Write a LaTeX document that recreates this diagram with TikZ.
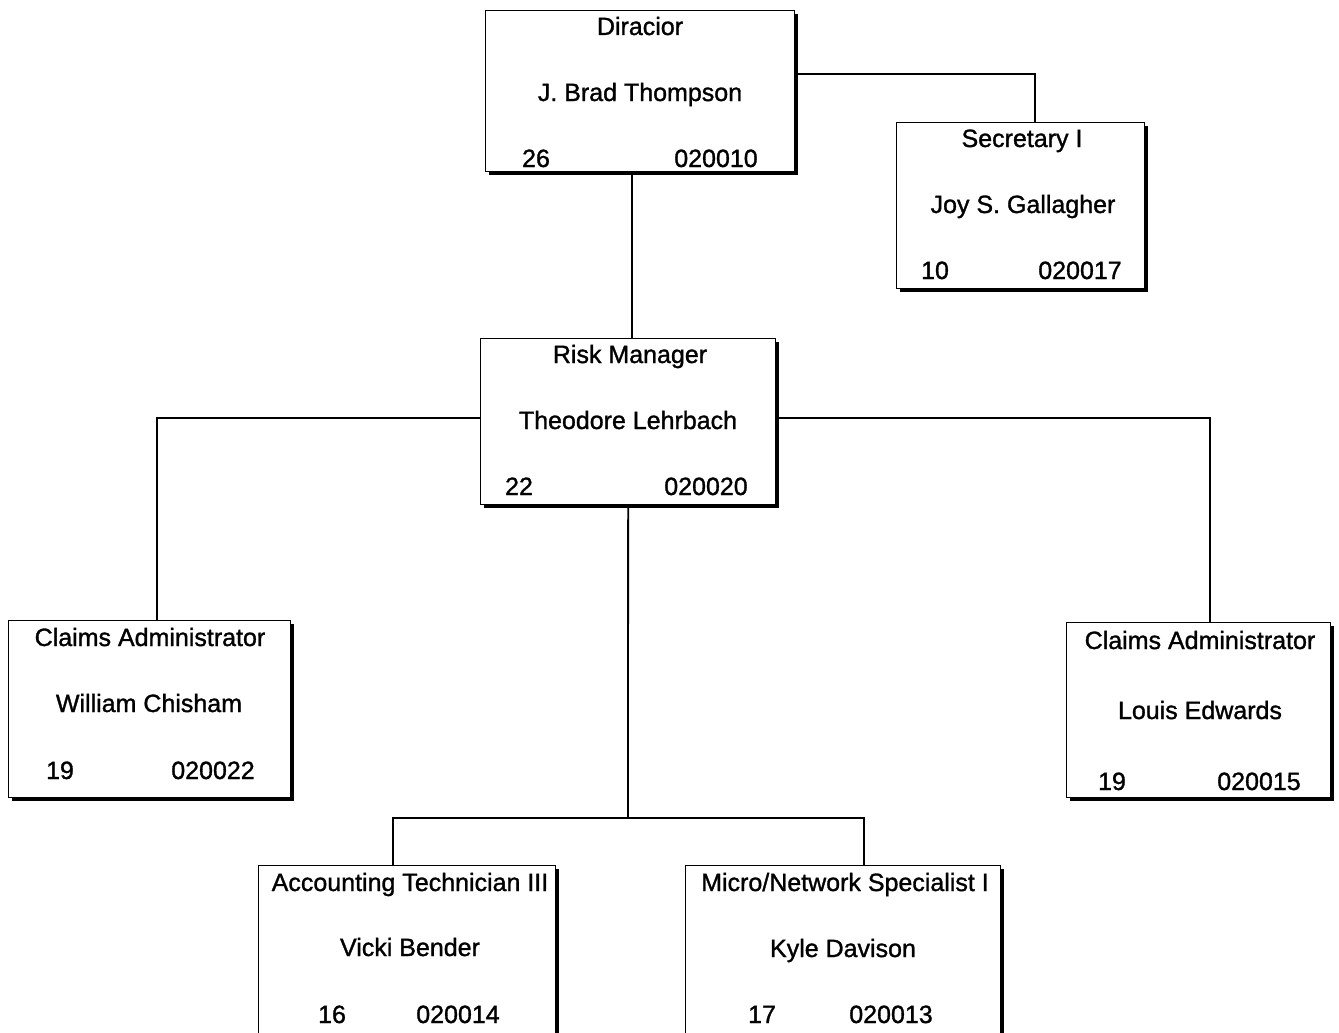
\documentclass[tikz,border=0pt]{standalone}
\usepackage{fontspec}
\setmainfont{Liberation Sans}
\newfontfamily\chartfont[FakeBold=1.2]{Liberation Sans}
\usetikzlibrary{shadows}
\begin{document}
\begin{tikzpicture}[x=1pt,y=-1pt,
  post/.style={draw=black, line width=1.3pt, fill=white, anchor=north west,
    inner sep=0pt, drop shadow={shadow xshift=3.5pt, shadow yshift=-3.5pt, fill=black, opacity=1}},
  txt/.style={anchor=base, inner sep=0pt, font=\chartfont\fontsize{25}{28}\selectfont},
  link/.style={draw=black, line width=1.8pt}]
\useasboundingbox (0,0) rectangle (1339,1033);
\fill[white] (0,0) rectangle (1339,1033);

% positions
\node[post, minimum width=309pt, minimum height=161pt] (dir) at (485,10) {};
\node[post, minimum width=248pt, minimum height=166pt] (sec) at (896,122) {};
\node[post, minimum width=295pt, minimum height=166pt] (risk) at (480,338) {};
\node[post, minimum width=282pt, minimum height=177pt] (cl) at (8,620) {};
\node[post, minimum width=264pt, minimum height=175pt] (cr) at (1066,622) {};
\node[post, minimum width=297pt, minimum height=180pt] (acc) at (258,865) {};
\node[post, minimum width=315pt, minimum height=180pt] (mic) at (685,865) {};

% texts
\node[txt] (dirT) at (640,35) {Diracior};
\node[txt] (dirN) at (640,101) {J. Brad Thompson};
\node[txt] (dirG) at (536,167) {26};
\node[txt] (dirC) at (716,167) {020010};

\node[txt] (secT) at (1022,147) {Secretary I};
\node[txt] (secN) at (1023,213) {Joy S. Gallagher};
\node[txt] (secG) at (935,279) {10};
\node[txt] (secC) at (1080,279) {020017};

\node[txt] (riskT) at (630,363) {Risk Manager};
\node[txt] (riskN) at (628,429) {Theodore Lehrbach};
\node[txt] (riskG) at (519,495) {22};
\node[txt] (riskC) at (706,495) {020020};

\node[txt] (clT) at (150,646) {Claims Administrator};
\node[txt] (clN) at (149,712) {William Chisham};
\node[txt] (clG) at (60,779) {19};
\node[txt] (clC) at (213,779) {020022};

\node[txt] (crT) at (1200,649) {Claims Administrator};
\node[txt] (crN) at (1200,719) {Louis Edwards};
\node[txt] (crG) at (1112,790) {19};
\node[txt] (crC) at (1259,790) {020015};

\node[txt] (accT) at (410,891) {Accounting Technician III};
\node[txt] (accN) at (410,956) {Vicki Bender};
\node[txt] (accG) at (332,1023) {16};
\node[txt] (accC) at (458,1023) {020014};

\node[txt] (micT) at (845,891) {Micro/Network Specialist I};
\node[txt] (micN) at (843,957) {Kyle Davison};
\node[txt] (micG) at (762,1023) {17};
\node[txt] (micC) at (891,1023) {020013};

% reporting lines
\coordinate (j) at (628,818);
\coordinate (rtop) at (risk.north -| 632,0);
\draw[link] (dir.south -| rtop) -- (rtop);
\draw[link] ([yshift=17pt]dir.east) -| ([xshift=14pt]sec.north);
\draw[link] ([yshift=4pt]risk.west) -| ([xshift=7pt]cl.north);
\draw[link] ([yshift=4pt]risk.east) -| ([xshift=11pt]cr.north);
\draw[link] (risk.south) -- (j);
\draw[link] ([xshift=-14pt]acc.north) |- (j) -| ([xshift=21pt]mic.north);
\end{tikzpicture}
\end{document}
